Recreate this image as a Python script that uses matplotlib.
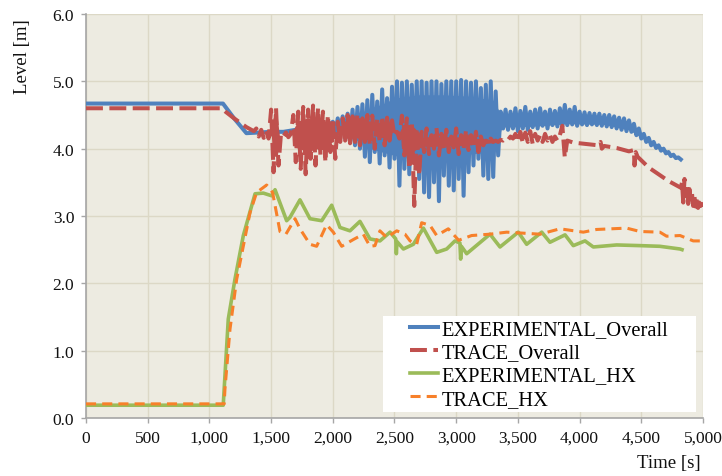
import numpy as np
import matplotlib
matplotlib.use("Agg")
import matplotlib.pyplot as plt
from matplotlib.patches import Rectangle
from matplotlib.ticker import FuncFormatter

nan = np.nan

# ---------------------------------------------------------------- data
# EXPERIMENTAL_Overall: smooth start, then sampled every 20 s
exp_overall_t = [0, 1110, 1200, 1300, 1400, 1500, 1600, 1700, 1800, 1900, 1980]
exp_overall_v = [4.67, 4.67, 4.45, 4.23, 4.24, 4.25, 4.25, 4.28, 4.30, 4.32, 4.36]
exp_overall_start, exp_overall_step = 2000, 20
exp_overall_samples = [
    4.40, 4.22, 4.45, 4.25, 4.48, 4.15, 4.52, 4.10, 4.58, 4.05,
    4.62, 4.00, 4.66, 3.88, 4.72, 3.80, 4.80, 3.95, 4.70, 3.78,
    4.88, 3.90, 4.75, 3.72, 4.92, 3.85, 5.00, 3.45, 4.98, 3.70,
    5.00, 3.62, 4.95, 3.80, 5.00, 3.55, 5.00, 3.35, 4.98, 3.28,
    5.00, 3.50, 5.00, 3.22, 4.96, 3.60, 5.00, 3.45, 5.00, 3.38,
    5.00, 3.55, 5.02, 3.30, 5.00, 3.65, 4.98, 3.75, 5.00, 3.85,
    4.90, 3.60, 4.95, 3.55, 5.00, 3.58, 4.85, 3.90, 4.55,
    4.30, 4.58, 4.28, 4.55, 4.30, 4.60, 4.26, 4.56, 4.30, 4.62,
    4.28, 4.55, 4.32, 4.58, 4.30, 4.60, 4.34, 4.55, 4.30, 4.58,
    4.35, 4.56, 4.33, 4.60, 4.34, 4.65, 4.35, 4.58, 4.36, 4.62,
    4.34, 4.55, 4.36, 4.54, 4.35, 4.53, 4.36, 4.52, 4.35, 4.52,
    4.34, 4.50, 4.33, 4.50, 4.32, 4.48, 4.30, 4.46, 4.28, 4.45,
    4.26, 4.42, 4.25, 4.37, 4.20, 4.30, 4.15, 4.22, 4.10, 4.16,
    4.05, 4.10, 4.01, 4.05, 3.97, 4.00, 3.93, 3.95, 3.89, 3.91,
    3.86, 3.87, 3.84,
]
# dense core of the experimental signal (time, lower, upper)
exp_overall_core_t = [2000, 2100, 2200, 2300, 2400, 2500, 2700, 2900, 3100, 3300,
                      3350, 3370, 3600, 3900, 4200, 4400, 4500, 4600, 4700, 4820]
exp_overall_core_lo = [4.36, 4.25, 4.12, 4.00, 3.95, 3.90, 3.85, 3.82, 3.92, 3.95,
                       4.20, 4.32, 4.33, 4.37, 4.36, 4.28, 4.17, 4.05, 3.95, 3.85]
exp_overall_core_hi = [4.36, 4.42, 4.50, 4.60, 4.66, 4.75, 4.80, 4.80, 4.78, 4.72,
                       4.55, 4.50, 4.52, 4.53, 4.48, 4.40, 4.20, 4.08, 3.97, 3.86]

# TRACE_Overall: smooth start, 20 s samples, smooth decline, 10 s tail
trace_overall_t0 = [0, 1100, 1130, 1200, 1300, 1340]
trace_overall_v0 = [4.60, 4.60, 4.55, 4.45, 4.32, 4.28]
trace_overall_start, trace_overall_step = 1360, 20
trace_overall_samples = [
    4.26, 4.30, 4.18, 4.28, 4.16, 4.26, 4.15, 4.58, 3.65, 4.60,
    3.75, 4.22, 4.18, 4.24, 4.17, 4.22, 4.50, 3.80, 4.55, 3.70,
    4.62, 3.62, 4.58, 3.85, 4.64, 3.75, 4.60, 3.90, 4.55, 3.80,
    4.50, 3.95, 4.45, 3.85, 4.40, 4.10, 4.45, 4.12, 4.50, 4.08,
    4.48, 4.10, 4.52, 4.05, 4.45, 4.10, 4.50, 4.05, 4.49, 4.00,
    4.45, 4.10, 4.48, 4.05, 4.46, 4.12, 4.42, 4.18, 4.25, 4.15,
    4.49, 3.90, 4.45, 3.70, 4.40, 3.15, 4.30, 3.60, 4.25, 3.95,
    4.30, 3.92, 4.20, 4.00, 4.31, 3.90, 4.22, 4.00, 4.28, 3.95,
    4.18, 4.02, 4.30, 3.92, 4.20, 4.00, 4.28, 3.98, 4.20, 4.02,
    4.25, 3.95, 4.18, 4.05, 4.12, 4.08, 4.15, 4.10, 4.12, 4.10,
    4.13, 4.12, 4.15, 4.13, 4.18, 4.15, 4.22, 4.10,
    4.25, 4.08, 4.24, 4.10, 4.26, 4.07, 4.22, 4.12, 4.20, 4.10,
    4.22, 4.12, 4.20, 4.10, 4.18, 4.12, 4.20, 4.34, 3.87, 4.12,
]
trace_overall_t1 = [3950, 4050, 4150, 4170, 4180, 4200, 4300, 4400,
                    4440, 4445, 4455, 4470, 4560, 4640, 4720, 4800, 4820]
trace_overall_v1 = [4.09, 4.07, 4.05, 4.10, 4.00, 4.04, 4.01, 3.96,
                    3.98, 3.75, 3.95, 3.88, 3.72, 3.62, 3.52, 3.44, 3.42]
trace_overall_tail_start, trace_overall_tail_step = 4830, 10
trace_overall_tail = [3.50, 3.20, 3.55, 3.30, 3.45, 3.18, 3.40, 3.25, 3.35,
                      3.15, 3.30, 3.14, 3.25, 3.12, 3.20, 3.15, 3.18, 3.13]
# dense core of the oscillating bursts (gaps between bursts as nan)
trace_overall_core_t = [1505, 1520, 1555, 1570, nan,
                        1690, 1720, 1800, 1900, 2010, nan,
                        2080, 2200, 2330, nan, 2380, 2480, nan,
                        2560, 2640, 2720, nan, 2740, 3000, 3300]
trace_overall_core_lo = [4.20, 3.88, 3.88, 4.20, nan,
                         4.10, 4.00, 3.95, 4.00, 4.10, nan,
                         4.15, 4.15, 4.12, nan, 4.15, 4.18, nan,
                         4.00, 3.92, 4.05, nan, 4.03, 4.03, 4.08]
trace_overall_core_hi = [4.20, 4.45, 4.45, 4.20, nan,
                         4.30, 4.40, 4.45, 4.40, 4.30, nan,
                         4.40, 4.42, 4.40, nan, 4.38, 4.35, nan,
                         4.35, 4.35, 4.20, nan, 4.17, 4.17, 4.13]

# EXPERIMENTAL_HX
exp_hx_t = [0, 1112, 1153, 1207, 1275, 1370, 1437, 1505, 1532, 1626, 1653,
            1734, 1815, 1910, 1991, 2058, 2139, 2220, 2301, 2382, 2464,
            2510, 2515, 2520, 2572, 2653, 2734, 2842, 2923, 2990, 3030,
            3036, 3042, 3085, 3274, 3355, 3503, 3571, 3693, 3760, 3882,
            3949, 4044, 4111, 4300, 4489, 4650, 4814, 4830]
exp_hx_v = [0.19, 0.19, 1.47, 2.06, 2.71, 3.33, 3.34, 3.30, 3.39, 2.93, 2.98,
            3.24, 2.96, 2.93, 3.16, 2.83, 2.78, 2.92, 2.66, 2.63, 2.76,
            2.66, 2.44, 2.62, 2.51, 2.58, 2.82, 2.46, 2.51, 2.63, 2.60,
            2.36, 2.55, 2.44, 2.73, 2.54, 2.76, 2.58, 2.76, 2.61, 2.72,
            2.56, 2.63, 2.54, 2.57, 2.56, 2.55, 2.51, 2.50]

# TRACE_HX
trace_hx_t = [0, 1120, 1126, 1167, 1221, 1329, 1383, 1464, 1512, 1572, 1620,
              1694, 1734, 1815, 1869, 1950, 2004, 2072, 2166, 2247, 2301,
              2342, 2382, 2437, 2518, 2585, 2626, 2680, 2720, 2788, 2842,
              2936, 3020, 3125, 3274, 3409, 3679, 3841, 4030, 4138, 4381,
              4489, 4651, 4705, 4814, 4921, 5000]
trace_hx_v = [0.21, 0.21, 0.43, 1.32, 2.06, 3.05, 3.35, 3.46, 3.35, 2.77, 2.73,
              2.96, 2.81, 2.58, 2.55, 2.87, 2.76, 2.55, 2.65, 2.73, 2.55,
              2.56, 2.78, 2.68, 2.78, 2.73, 2.63, 2.58, 2.90, 2.86, 2.71,
              2.81, 2.64, 2.71, 2.73, 2.76, 2.73, 2.81, 2.76, 2.80, 2.82,
              2.77, 2.76, 2.70, 2.71, 2.63, 2.63]

labels = ["EXPERIMENTAL_Overall", "TRACE_Overall", "EXPERIMENTAL_HX", "TRACE_HX"]
x_ticks = list(range(0, 5001, 500))
y_ticks = [0.0, 1.0, 2.0, 3.0, 4.0, 5.0, 6.0]


def sampled(start, step, values):
    return start + step * np.arange(len(values))


exp_overall_time = np.concatenate([exp_overall_t,
                                   sampled(exp_overall_start, exp_overall_step, exp_overall_samples)])
exp_overall_level = np.concatenate([exp_overall_v, exp_overall_samples])

trace_overall_time = np.concatenate([
    trace_overall_t0,
    sampled(trace_overall_start, trace_overall_step, trace_overall_samples),
    trace_overall_t1,
    sampled(trace_overall_tail_start, trace_overall_tail_step, trace_overall_tail),
])
trace_overall_level = np.concatenate([trace_overall_v0, trace_overall_samples,
                                      trace_overall_v1, trace_overall_tail])

# ---------------------------------------------------------------- figure
plt.rcParams["font.family"] = ["Liberation Serif", "DejaVu Serif"]

W, H = 722, 477
fig = plt.figure(figsize=(W / 100, H / 100), dpi=100)
ax_l, ax_r, ax_t, ax_b = 86, 703, 15, 419
ax = fig.add_axes([ax_l / W, 1 - ax_b / H, (ax_r - ax_l) / W, (ax_b - ax_t) / H])

ax.set_facecolor("#EDEBE1")
for side in ("top", "right"):
    ax.spines[side].set_visible(False)
for side in ("left", "bottom"):
    ax.spines[side].set_color("#A6A6A6")
    ax.spines[side].set_linewidth(1.2)

blue, red, green, orange = "#4F81BD", "#C0504D", "#9BBB59", "#F7802A"

l1, = ax.plot(exp_overall_time, exp_overall_level, color=blue, lw=2.9,
              solid_joinstyle="round", zorder=3)
ax.fill_between(exp_overall_core_t, exp_overall_core_lo, exp_overall_core_hi,
                color=blue, lw=0, zorder=3)
l2, = ax.plot(trace_overall_time, trace_overall_level, color=red, lw=2.9,
              dashes=(4.2, 1.6), zorder=4)
ax.fill_between(trace_overall_core_t, trace_overall_core_lo, trace_overall_core_hi,
                color=red, lw=0, zorder=4)
l3, = ax.plot(exp_hx_t, exp_hx_v, color=green, lw=2.6, zorder=5)
l4, = ax.plot(trace_hx_t, trace_hx_v, color=orange, lw=2.2,
              dashes=(3.3, 2.0), zorder=6)

ax.set_xlim(0, 5000)
ax.set_ylim(0, 6)
ax.set_xticks(x_ticks)
ax.set_yticks(y_ticks)
ax.xaxis.set_major_formatter(FuncFormatter(lambda v, p: f"{int(v):,}"))
ax.yaxis.set_major_formatter(FuncFormatter(lambda v, p: f"{v:.1f}"))
ax.grid(True, color="#DCD8C6", lw=1.0, zorder=0)
ax.set_axisbelow(True)
ax.tick_params(axis="both", direction="out", length=3.5, width=1.0,
               color="#A6A6A6", labelsize=12.5, labelcolor="#111111", pad=5)

fig.text(22 / W, 1 - 57 / H, "Level [m]", rotation=90, ha="center",
         va="center", fontsize=13.5, color="#111111")
fig.text(669 / W, 1 - 464 / H, "Time [s]", ha="center", va="center",
         fontsize=13.5, color="#111111")

# legend on a white panel in the lower right corner
bx0, bx1, by0, by1 = 383, 696, 317, 413
ax.add_patch(Rectangle(((bx0 - ax_l) / (ax_r - ax_l), (ax_b - by1) / (ax_b - ax_t)),
                       (bx1 - bx0) / (ax_r - ax_l), (by1 - by0) / (ax_b - ax_t),
                       transform=ax.transAxes, facecolor="white",
                       edgecolor="none", zorder=10))
leg = ax.legend([l1, l2, l3, l4], labels, frameon=False, fontsize=14.8,
                loc="upper left",
                bbox_to_anchor=((410 - ax_l) / (ax_r - ax_l), (ax_b - 321) / (ax_b - ax_t)),
                borderaxespad=0, borderpad=0.0, handlelength=1.37,
                handletextpad=0.15, labelspacing=0.18)
leg.set_zorder(11)

fig.savefig("out.png", dpi=100)
